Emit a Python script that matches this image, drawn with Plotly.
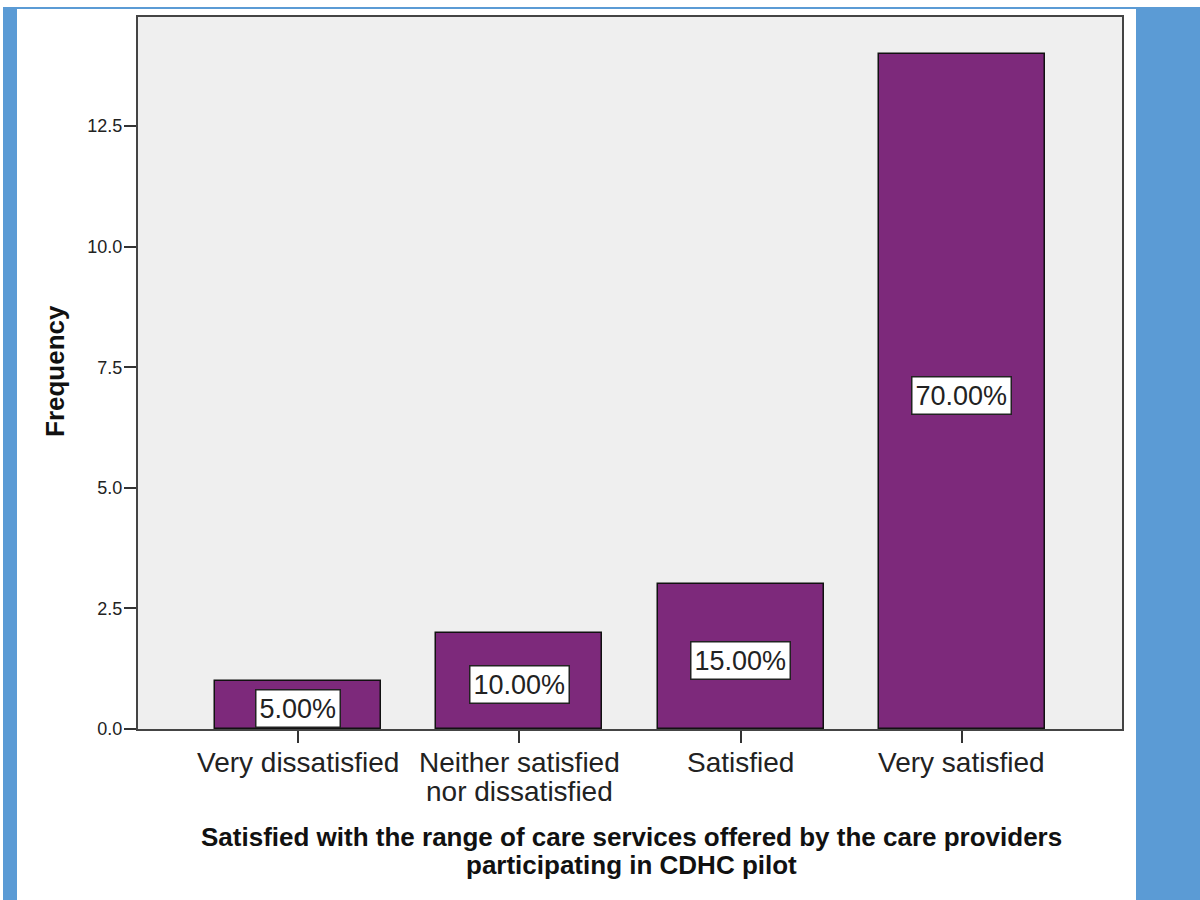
import plotly.graph_objects as go

categories = ["Very dissatisfied", "Neither satisfied<br>nor dissatisfied", "Satisfied", "Very satisfied"]
frequency = [1, 2, 3, 14]
y_ticks = [0.0, 2.5, 5.0, 7.5, 10.0, 12.5]

total = sum(frequency)
pct_labels = [f"{v / total * 100:.2f}%" for v in frequency]

W, H = 1200, 900
L, R, T, B = 138, 1122, 17, 729
FONT = "Liberation Sans, Arial, sans-serif"


def px(x):
    return (x - L) / (R - L)


def py(y):
    return (B - y) / (B - T)


fig = go.Figure()
fig.add_trace(go.Bar(
    x=list(range(len(categories))),
    y=frequency,
    width=0.75,
    marker=dict(color="#7d297b", line=dict(color="#111111", width=1.5)),
    hoverinfo="skip",
))

# percentage labels boxed at mid-height of each bar
for i, (v, lab) in enumerate(zip(frequency, pct_labels)):
    fig.add_annotation(
        x=i, y=v / 2, xref="x", yref="y", text=lab, showarrow=False, yshift=-4,
        font=dict(family=FONT, size=27, color="#222222"),
        bgcolor="white", bordercolor="#222222", borderwidth=1.5, borderpad=3,
    )

# category labels under the ticks, with tight line spacing
for i, cat in enumerate(categories):
    for j, line in enumerate(cat.split("<br>")):
        fig.add_annotation(
            x=i, y=py(762 + 29 * j), xref="x", yref="paper", text=line, showarrow=False,
            xanchor="center", yanchor="middle",
            font=dict(family=FONT, size=28, color="#222222"),
        )

# axis titles
for j, line in enumerate(["Satisfied with the range of care services offered by the care providers",
                          "participating in CDHC pilot"]):
    fig.add_annotation(
        x=px(631), y=py(837 + 28 * j), xref="paper", yref="paper", showarrow=False,
        xanchor="center", yanchor="middle", text=f"<b>{line}</b>",
        font=dict(family=FONT, size=26, color="#111111"),
    )
fig.add_annotation(
    x=px(55), y=py(371), xref="paper", yref="paper", showarrow=False, textangle=-90,
    xanchor="center", yanchor="middle", text="<b>Frequency</b>",
    font=dict(family=FONT, size=26, color="#111111"),
)

# page frame: blue strips around the white canvas
blue = "#5b9bd5"
shapes = [
    dict(type="rect", xref="paper", yref="paper", x0=px(3), x1=px(1200), y0=py(7), y1=py(9),
         fillcolor=blue, line=dict(width=0), layer="below"),
    dict(type="rect", xref="paper", yref="paper", x0=px(3), x1=px(17), y0=py(7), y1=py(900),
         fillcolor=blue, line=dict(width=0), layer="below"),
    dict(type="rect", xref="paper", yref="paper", x0=px(1136), x1=px(1200), y0=py(7), y1=py(900),
         fillcolor=blue, line=dict(width=0), layer="below"),
]
fig.update_layout(shapes=shapes)

fig.update_layout(
    width=W, height=H,
    margin=dict(l=L, r=W - R, t=T, b=H - B, pad=0),
    paper_bgcolor="white",
    plot_bgcolor="#efefef",
    showlegend=False,
    bargap=0,
    xaxis=dict(
        tickmode="array", tickvals=list(range(len(categories))), showticklabels=False,
        range=[-0.723, 3.723], ticks="outside", ticklen=12, tickwidth=2, tickcolor="#333333",
        showline=True, linecolor="#444444", linewidth=2, mirror=True,
        showgrid=False, zeroline=False, fixedrange=True,
    ),
    yaxis=dict(
        tickmode="array", tickvals=y_ticks, ticktext=[f"{t:.1f}" for t in y_ticks],
        range=[0, 14.76], ticks="outside", ticklen=12, tickwidth=2, tickcolor="#333333",
        ticklabelstandoff=-2,
        tickfont=dict(family=FONT, size=18, color="#222222"),
        showline=True, linecolor="#444444", linewidth=2, mirror=True,
        showgrid=False, zeroline=False, fixedrange=True,
    ),
)

fig.write_html("out.html", config={"displayModeBar": False})
